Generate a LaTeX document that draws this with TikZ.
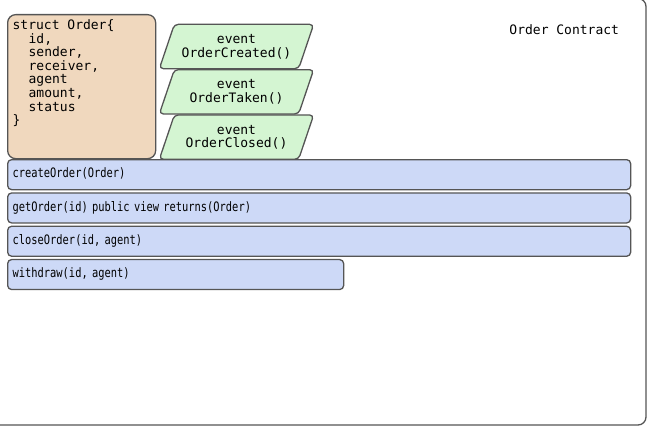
\documentclass[tikz,border=0pt]{standalone}
\usepackage{fontspec}
\setmonofont{DejaVu Sans Mono}
\newfontfamily\funcfont{DejaVu Sans Mono}[FakeStretch=0.8]
\usetikzlibrary{positioning,backgrounds}
\definecolor{structfill}{RGB}{240,216,190}
\definecolor{eventfill}{RGB}{212,245,210}
\definecolor{funcfill}{RGB}{205,217,247}
\definecolor{edgegray}{RGB}{85,85,85}

\begin{document}
\begin{tikzpicture}[x=1pt,y=-1pt,line width=1.3pt,
  every node/.style={font=\ttfamily\fontsize{13}{13.6}\selectfont},
  struct box/.style={rectangle,draw=edgegray,fill=structfill,rounded corners=8pt,minimum width=148pt,minimum height=144pt,anchor=north west},
  event box/.style={rectangle,minimum width=138pt,minimum height=43pt,inner sep=0pt,align=center},
  event shape/.style={draw=edgegray,fill=eventfill,line width=1.3pt,rounded corners=4pt},
  func box/.style={rectangle,draw=edgegray,fill=funcfill,rounded corners=4pt,minimum height=30pt,inner xsep=5pt,text height=9.5pt,text depth=3pt,text width=#1,align=left,font=\funcfont\fontsize{13}{13.6}\selectfont}]

            \useasboundingbox (0,0) rectangle (666,444);
            \clip (0,0) rectangle (666,444);

            % contract frame
            \draw[edgegray, rounded corners=8pt] (-10,-1.5) rectangle (646,425);
            \node[anchor=east] (title) at (623,30) {Order Contract};

            % struct
            \node[struct box] (order) at (7,14) {};
            \node[anchor=north west, align=left, inner sep=0pt] (fields) at ([shift={(5,5)}]order.north west)
                {struct Order\{\\
                 \hspace*{16pt}id,\\
                 \hspace*{16pt}sender,\\
                 \hspace*{16pt}receiver,\\
                 \hspace*{16pt}agent\\
                 \hspace*{16pt}amount,\\
                 \hspace*{16pt}status\\
                 \}};

            % events
            \node[event box] (created) at (236.5,46.5) {event\\OrderCreated()};
            \node[event box] (taken) [below=1pt of created] {event\\OrderTaken()};
            \node[event box] (closed) [below=1pt of taken] {event\\OrderClosed()};
            \begin{scope}[on background layer]
                \foreach \ev in {created,taken,closed}
                    \draw[event shape] ([xshift=-7.5pt]\ev.south west) -- ([xshift=7.5pt]\ev.north west)
                        -- ([xshift=7.5pt]\ev.north east) -- ([xshift=-7.5pt]\ev.south east) -- cycle;
            \end{scope}

            % functions
            \node[func box=613pt, anchor=north west] (create) at (7,159) {createOrder(Order)};
            \node[func box=613pt] (get) [below=2pt of create.south west, anchor=north west] {getOrder(id) public view returns(Order)};
            \node[func box=613pt] (close) [below=2pt of get.south west, anchor=north west] {closeOrder(id, agent)};
            \node[func box=326pt] (withdraw) [below=2pt of close.south west, anchor=north west] {withdraw(id, agent)};
        \end{tikzpicture}
\end{document}
